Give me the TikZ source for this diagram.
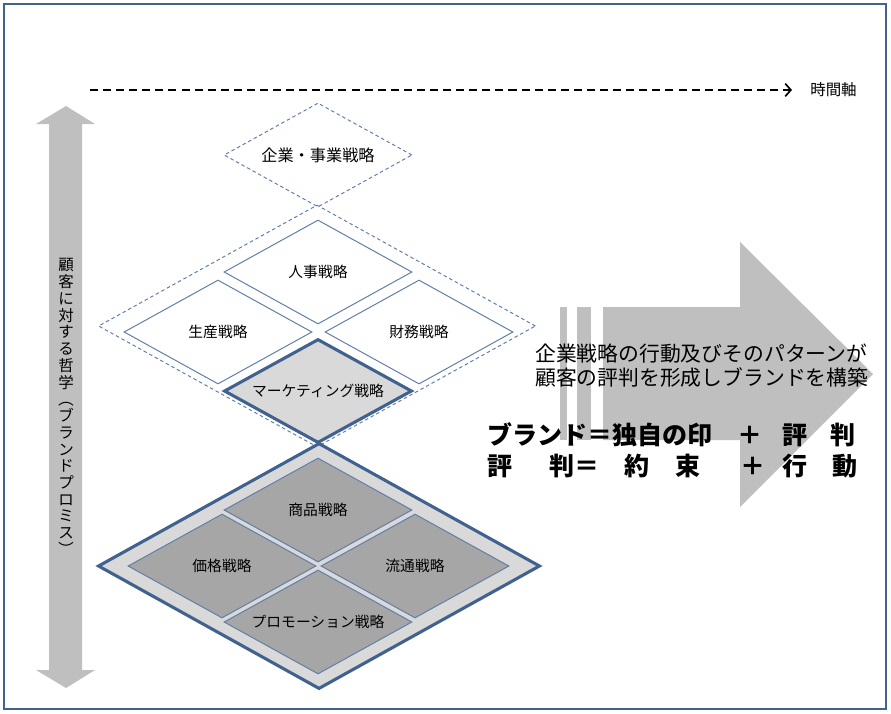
\documentclass[tikz,border=0pt]{standalone}
\usepackage{fontspec}
\setmainfont{Noto Sans CJK JP}
\usepackage{tikz}
\usetikzlibrary{shapes.geometric,arrows.meta}

\definecolor{frameblue}{RGB}{65,98,143}
\definecolor{lineblue}{RGB}{96,126,168}
\definecolor{arrowgray}{RGB}{191,191,191}
\definecolor{palegray}{RGB}{217,217,217}
\definecolor{midgray}{RGB}{166,166,166}

\newcommand{\vparen}[1]{\rotatebox[origin=c]{-90}{#1}}

\tikzset{
  rhomb/.style={diamond, aspect=1.8, draw=lineblue, line width=0.7pt, inner sep=0pt,
    minimum width=4.7cm, minimum height=2.6cm, font=\fontsize{10.5pt}{12pt}\selectfont},
  dashrhomb/.style={diamond, aspect=1.8, draw=lineblue, line width=0.7pt, inner sep=0pt,
    dash pattern=on 2.5pt off 2pt},
  thickrhomb/.style={rhomb, draw=frameblue, line width=2.2pt}
}

\begin{document}
\begin{tikzpicture}[x=0.025cm,y=-0.025cm]
  \useasboundingbox (0,0) rectangle (891,713);
  \draw[frameblue, line width=0.9pt] (4,4) rectangle (886,709);

  % time axis
  \coordinate (tstart) at (90,90);
  \coordinate (tend) at (792,90);
  \node[anchor=west, inner sep=0pt, font=\fontsize{11pt}{12pt}\selectfont] (taxis) at (810,90) {時間軸};
  \draw[line width=1.2pt, dash pattern=on 5.7pt off 3.6pt,
    -{Straight Barb[length=4pt,width=9pt]}] (tstart) -- (tend);

  % philosophy arrow
  \fill[arrowgray] (66,106) -- (95,124) -- (82,124) -- (82,670) -- (95,670)
    -- (66,688) -- (36,670) -- (49,670) -- (49,124) -- (36,124) -- cycle;
  \node[align=center, inner sep=0pt, font=\fontsize{11pt}{11.9pt}\selectfont] (philo) at (66,408)
    {顧\\客\\に\\対\\す\\る\\哲\\学\\\vparen{（}\\ブ\\ラ\\ン\\ド\\プ\\ロ\\ミ\\ス\\\vparen{）}};

  % brand arrow
  \fill[arrowgray] (603,307) -- (740,307) -- (740,242) -- (873,374)
    -- (740,507) -- (740,440) -- (603,440) -- cycle;
  \fill[arrowgray] (560,307) rectangle (567,440);
  \fill[arrowgray] (577,307) rectangle (591,440);

  % strategy layers
  \node[dashrhomb, minimum width=4.7cm, minimum height=2.6cm,
    font=\fontsize{11.5pt}{12pt}\selectfont] (corp) at (318,155) {企業・事業戦略};
  \node[dashrhomb, minimum width=10.925cm, minimum height=6.05cm] (func) at (317,326) {};
  \node[rhomb, fill=white] (hr) at (318,272) {人事戦略};
  \node[rhomb, fill=white] (prod) at (218,332) {生産戦略};
  \node[rhomb, fill=white] (fin) at (419,332) {財務戦略};
  \node[thickrhomb, fill=palegray] (mkt) at (318,391) {マーケティング戦略};

  \node[diamond, draw=frameblue, line width=2.2pt, fill=palegray, inner sep=0pt,
    minimum width=11.05cm, minimum height=6.15cm] (mix) at (319,566) {};
  \node[rhomb, fill=midgray] (goods) at (318,510) {商品戦略};
  \node[rhomb, fill=midgray] (price) at (222,566) {価格戦略};
  \node[rhomb, fill=midgray] (place) at (415,566) {流通戦略};
  \node[rhomb, fill=midgray] (promo) at (318,622) {プロモーション戦略};

  % messages
  \node[anchor=west, align=left, inner sep=0pt, font=\fontsize{14.8pt}{17pt}\selectfont] (build) at (535,366)
    {企業戦略の行動及びそのパターンが\\顧客の評判を形成しブランドを構築};
  \node[anchor=west, align=left, inner sep=0pt, font=\bfseries\fontsize{17.8pt}{22pt}\selectfont] (formula) at (487,450)
    {ブランド＝独自の印\hspace{1em}＋\hspace{.8em}評\hspace{.9em}判\\
     評\hspace{1.5em}判＝\hspace{1em}約\hspace{1em}束\hspace{1.6em}＋\hspace{.7em}行\hspace{1em}動};
\end{tikzpicture}
\end{document}
